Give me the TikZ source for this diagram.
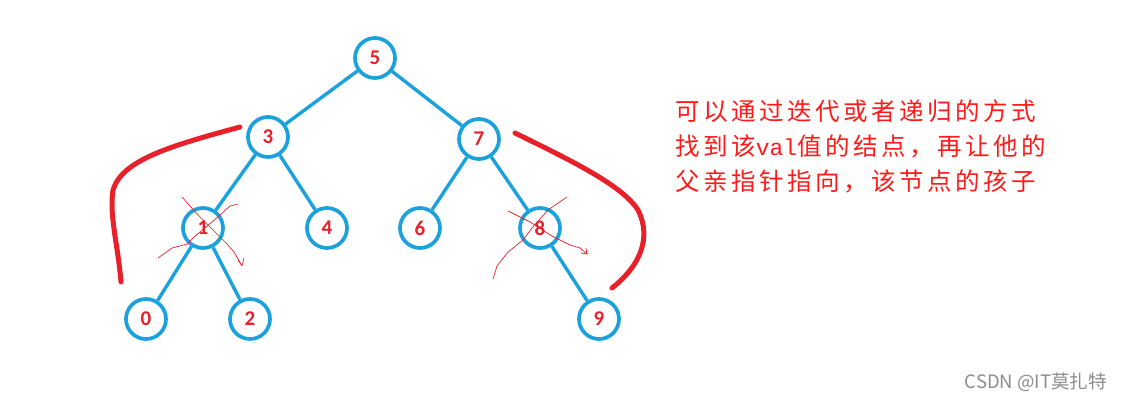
\documentclass[tikz,border=0pt]{standalone}
\usepackage{fontspec}
\setsansfont{Carlito}
\newfontfamily\cjk{Noto Sans CJK SC}
\newfontfamily\cjknote[LetterSpace=14.5]{Noto Sans CJK SC}
\newfontfamily\latinmono{Liberation Mono}
\usetikzlibrary{positioning, calc}
\definecolor{TreeBlue}{HTML}{1BA1DB}
\definecolor{MarkRed}{HTML}{E8202A}
\definecolor{NoteRed}{HTML}{FF1A1A}

\tikzset{
  treenode/.style={circle, draw=TreeBlue, line width=3.7pt, fill=white,
    minimum size=40pt, inner sep=0pt, text=MarkRed,
    font=\sffamily\bfseries\fontsize{21}{21}\selectfont},
  treeedge/.style={TreeBlue, line width=3.4pt},
  bigmark/.style={MarkRed, line width=5pt, line cap=round},
  thinmark/.style={MarkRed, line width=0.7pt},
}

\begin{document}
\begin{tikzpicture}[x=1pt, y=-1pt]
\useasboundingbox (0,0) rectangle (1122,402);
% --- Tree nodes ---
\node[treenode] (n5) at (375,58) {5};
\node[treenode] (n3) at (268,137) {3};
\node[treenode] (n7) at (479,139) {7};
\node[treenode] (n1) at (203,228) {1};
\node[treenode] (n4) at (327,228) {4};
\node[treenode] (n6) at (420,228) {6};
\node[treenode] (n8) at (540,228) {8};
\node[treenode] (n0) at (146,319) {0};
\node[treenode] (n2) at (250,319) {2};
\node[treenode] (n9) at (599,319) {9};
% Edges
\draw[treeedge] (n5) -- (n3);
\draw[treeedge] (n5) -- (n7);
\draw[treeedge] (n3) -- (n1);
\draw[treeedge] (n3) -- (n4);
\draw[treeedge] (n7) -- (n6);
\draw[treeedge] (n7) -- (n8);
\draw[treeedge] (n1) -- (n0);
\draw[treeedge] (n1) -- (n2);
\draw[treeedge] (n8) -- (n9);
% --- Thick red brackets ---
\draw[bigmark] (240,127) .. controls (170,146) and (122,160) .. (113,190)
  .. controls (109,215) and (118,245) .. (121,282);
\draw[bigmark] (515,133) .. controls (570,160) and (622,185) .. (638,210)
  .. controls (652,238) and (640,266) .. (612,288);
% --- Thin crosses on 1 and 8 ---
\draw[thinmark] (182,197) -- (198,215) -- (211,228) -- (226,243) -- (234,252)
  -- (242,266) -- (238,260) (242,266) -- (244,258);
\draw[thinmark] (238,204) -- (230,206) -- (212,222) -- (194,237) -- (187,244)
  -- (172,248) -- (158,258);
\draw[thinmark] (508,211) -- (530,222) -- (552,236) -- (570,245) -- (580,248)
  -- (587,254) -- (581,253) (587,254) -- (586,248);
\draw[thinmark] (567,197) -- (548,210) -- (532,228) -- (523,240) -- (508,252)
  -- (497,266) -- (493,279);
% --- Note text ---
\node[anchor=north west, inner sep=0pt, align=left, text=NoteRed,
  font=\cjknote\fontsize{24.5}{35}\selectfont] (note) at (675,100)
  {可以通过迭代或者递归的方式\\找到该{\latinmono\fontsize{23}{35}\selectfont val}值的结点，再让他的\\父亲指针指向，该节点的孩子};
% Watermark
\node[anchor=east, inner sep=0pt, text=black!45,
  font=\cjk\fontsize{18.5}{18.5}\selectfont] (mark) at (1107,382) {CSDN @IT莫扎特};
\end{tikzpicture}
\end{document}
